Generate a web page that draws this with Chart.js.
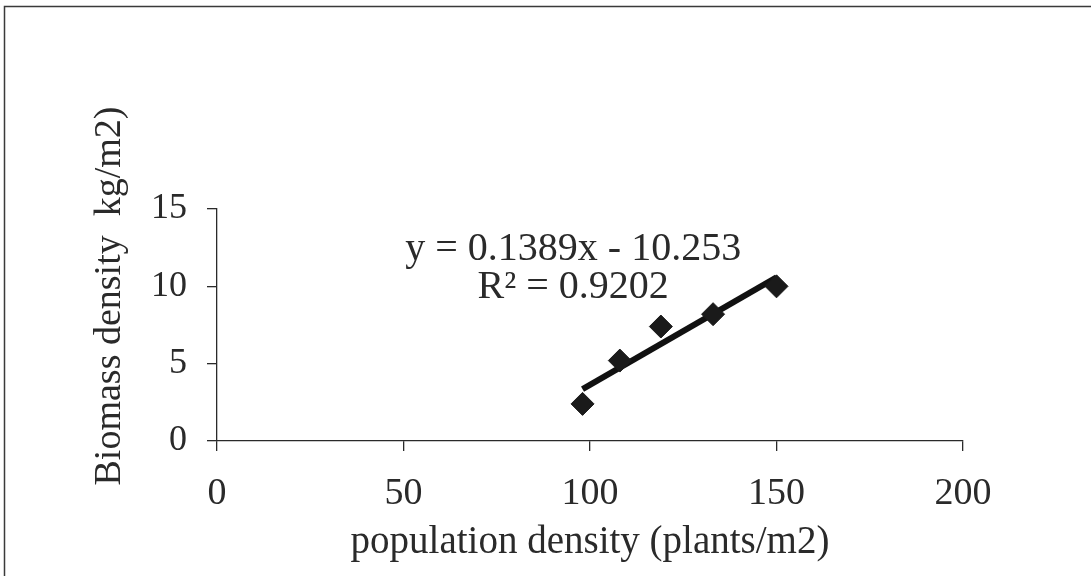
<!DOCTYPE html>
<html>
<head>
<meta charset="utf-8">
<script src="https://cdn.jsdelivr.net/npm/chart.js@4"></script>
<style>
html,body{margin:0;padding:0;background:#fff;}
#wrap{width:1091px;height:576px;position:relative;}
</style>
</head>
<body>
<div id="wrap"><canvas id="c" width="1091" height="576"></canvas></div>
<script>
const xValues = [98, 108, 119, 133, 150];
const yValues = [2.4, 5.2, 7.4, 8.2, 10.0];
const trendX = [98, 150];
const trendY = [3.36, 10.58];
const xTicks = [0, 50, 100, 150, 200];
const yTicks = [0, 5, 10, 15];
const equationText = 'y = 0.1389x - 10.253';
const r2Text = 'R\u00B2 = 0.9202';
const xTitle = 'population density (plants/m2)';
const yTitle = 'Biomass density  kg/m2)';

const FONT = "'Liberation Serif', 'Times New Roman', serif";
const INK = '#2a2a2a';

const framePlugin = {
  id: 'frame',
  afterDraw(chart) {
    const ctx = chart.ctx;
    ctx.save();
    ctx.strokeStyle = '#3a3a3a';
    ctx.lineWidth = 1.5;
    ctx.strokeRect(4.5, 6.5, 1100, 600);
    const xs = chart.scales.x, ys = chart.scales.y;
    ctx.fillStyle = INK;
    ctx.font = "40px " + FONT;
    ctx.textAlign = 'center';
    ctx.textBaseline = 'middle';
    ctx.fillText(equationText, xs.getPixelForValue(95.5), ys.getPixelForValue(12.35));
    ctx.fillText(r2Text, xs.getPixelForValue(95.5), ys.getPixelForValue(9.9));
    // y axis title
    ctx.translate(110, 296);
    ctx.rotate(-Math.PI / 2);
    ctx.font = "38px " + FONT;
    ctx.fillText(yTitle, 0, 0);
    ctx.restore();
  }
};

new Chart(document.getElementById('c'), {
  type: 'scatter',
  data: {
    datasets: [
      {
        type: 'line',
        data: trendX.map((x, i) => ({x: x, y: trendY[i]})),
        borderColor: '#111',
        borderWidth: 6,
        pointRadius: 0,
        fill: false,
        order: 2
      },
      {
        data: xValues.map((x, i) => ({x: x, y: yValues[i]})),
        pointStyle: 'rectRot',
        pointRadius: 11.5,
        backgroundColor: '#1a1a1a',
        borderColor: '#1a1a1a',
        borderWidth: 1,
        order: 1
      }
    ]
  },
  options: {
    responsive: false,
    animation: false,
    events: [],
    layout: { padding: { left: 88, right: 128, top: 209, bottom: 8 } },
    plugins: { legend: { display: false }, tooltip: { enabled: false } },
    scales: {
      x: {
        type: 'linear',
        min: 0, max: 200,
        afterBuildTicks(s) { s.ticks = xTicks.map(v => ({value: v})); },
        afterFit(s) { s.height = 127; },
        grid: { drawOnChartArea: false, drawTicks: true, tickLength: 10, color: INK, lineWidth: 1.3 },
        border: { display: true, color: INK, width: 1.3 },
        ticks: { color: INK, font: { family: FONT, size: 38 }, padding: 20, maxRotation: 0 },
        title: { display: true, text: xTitle, color: INK, font: { family: FONT, size: 39 }, padding: { top: 0, bottom: 2 } }
      },
      y: {
        type: 'linear',
        min: 0, max: 15,
        afterBuildTicks(s) { s.ticks = yTicks.map(v => ({value: v})); },
        afterFit(s) { s.width = 129; },
        grid: { drawOnChartArea: false, drawTicks: true, tickLength: 10, color: INK, lineWidth: 1.3 },
        border: { display: true, color: INK, width: 1.3 },
        ticks: { color: INK, font: { family: FONT, size: 36 }, padding: 20 },
        title: { display: false, text: yTitle }
      }
    }
  },
  plugins: [framePlugin]
});
</script>
</body>
</html>
